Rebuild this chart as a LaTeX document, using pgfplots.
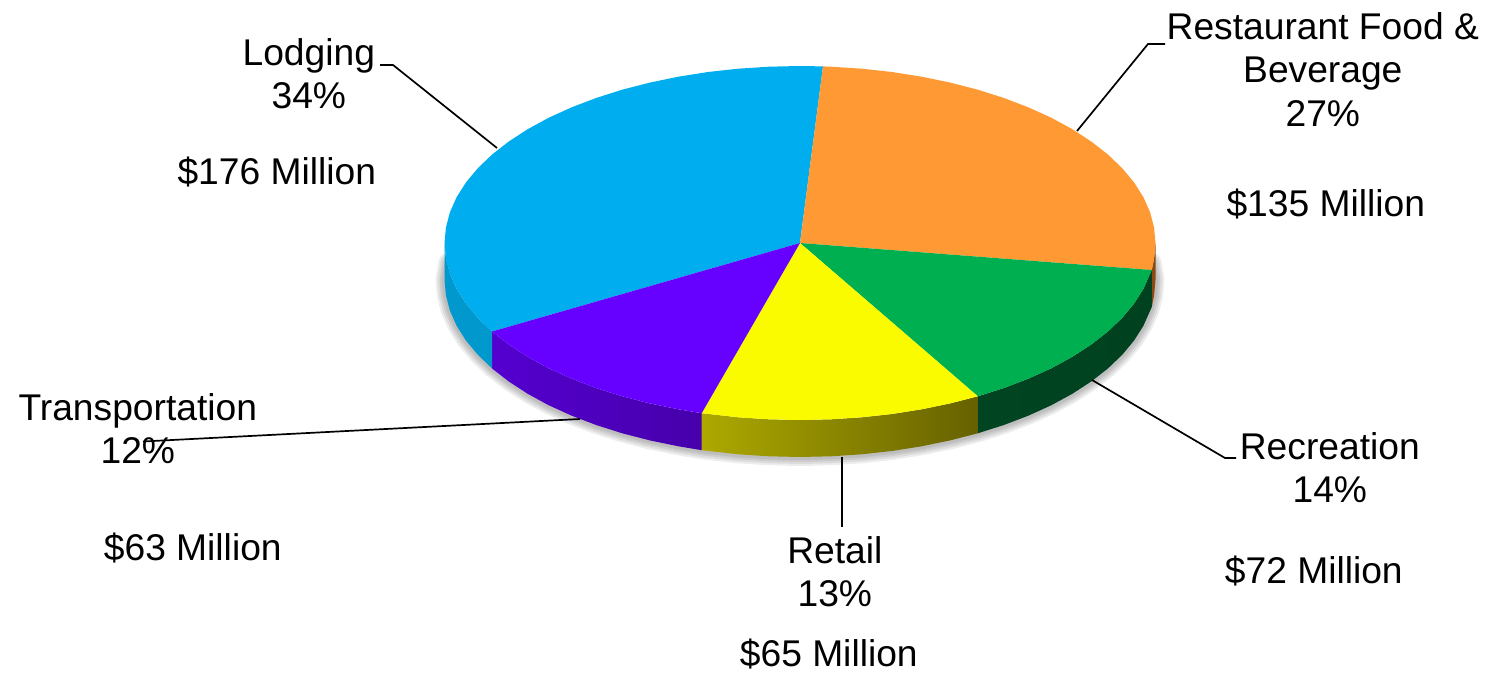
\documentclass[border=0pt]{standalone}
\usepackage{fontspec}
\setmainfont{Liberation Sans}
\usepackage{pgfplots}
\pgfplotsset{compat=1.18}
\definecolor{lodging}{HTML}{00AEEF}
\definecolor{food}{HTML}{FF9933}
\definecolor{recr}{HTML}{00B050}
\definecolor{retail}{HTML}{FBFB00}
\definecolor{transp}{HTML}{6600FF}
\begin{document}
\begin{tikzpicture}
\begin{axis}[
  scale only axis,
  width=743pt,
  height=336.5pt,
  xmin=0, xmax=1486,
  ymin=0, ymax=673,
  y dir=reverse,
  hide axis,
  clip=false,
  nodes={font=\fontsize{18.6}{21}\selectfont,text=black,inner sep=0pt,xshift=0.4pt,yshift=-0.4pt},
]
% bounding corners
\addplot[draw=none] coordinates {(0,0) (1486,673)};

% soft shadow under the rim
\pgfplotsinvokeforeach{9pt,7pt,5pt,3pt}{
\addplot[draw=black,opacity=0.07,line width=#1,line join=round,line cap=round] coordinates {
(1152.5,262) (1155.5,280) (1154.1,295.4) (1150.1,310.7) (1143.4,325.8) (1134.1,340.5) (1122.2,354.8) (1107.9,368.5) (1091.2,381.5) (1072.3,393.8) (1051.4,405.2) (1028.5,415.6) (1003.9,425) (977.8,433.3) (950.2,440.4) (921.6,446.3) (892,451) (861.7,454.3) (831,456.3) (800,457) (769,456.3) (738.3,454.3) (701.7,450.2) (678.4,446.3) (649.8,440.4) (622.2,433.3) (596.1,425) (571.5,415.6) (548.6,405.2) (527.7,393.8) (508.8,381.5) (492.1,368.5) (477.8,354.8) (465.9,340.5) (456.6,325.8) (449.9,310.7) (445.9,295.4) (444.5,280) (447.5,262)};
}

% side walls
\addplot[draw=none,fill={rgb,255:red,138;green,74;blue,16}] coordinates {
(1155.5,243) (1154.1,258.4) (1151.8,270) (1151.8,307) (1154.1,295.4) (1155.5,280)} -- cycle;
\addplot[draw=none,left color={rgb,255:red,0;green,68;blue,34},right color={rgb,255:red,0;green,66;blue,32}] coordinates {
(1151.8,270) (1150.1,273.7) (1143.4,288.8) (1134.1,303.5) (1122.2,317.8) (1107.9,331.5) (1091.2,344.5) (1072.3,356.8) (1051.4,368.2) (1028.5,378.6) (1003.9,388) (977.8,396.3)
(977.8,433.3) (1003.9,425) (1028.5,415.6) (1051.4,405.2) (1072.3,393.8) (1091.2,381.5) (1107.9,368.5) (1122.2,354.8) (1134.1,340.5) (1143.4,325.8) (1150.1,310.7) (1151.8,307)} -- cycle;
\addplot[draw=none,left color={rgb,255:red,173;green,169;blue,0},right color={rgb,255:red,102;green,97;blue,0}] coordinates {
(977.8,396.3) (950.2,403.4) (921.6,409.3) (892,414) (861.7,417.3) (831,419.3) (800,420) (769,419.3) (738.3,417.3) (701.7,413.2)
(701.7,450.2) (738.3,454.3) (769,456.3) (800,457) (831,456.3) (861.7,454.3) (892,451) (921.6,446.3) (950.2,440.4) (977.8,433.3)} -- cycle;
\addplot[draw=none,left color={rgb,255:red,84;green,0;blue,208},right color={rgb,255:red,70;green,0;blue,170}] coordinates {
(701.7,413.2) (678.4,409.3) (649.8,403.4) (622.2,396.3) (596.1,388) (571.5,378.6) (548.6,368.2) (527.7,356.8) (508.8,344.5) (492.1,331.5)
(492.1,368.5) (508.8,381.5) (527.7,393.8) (548.6,405.2) (571.5,415.6) (596.1,425) (622.2,433.3) (649.8,440.4) (678.4,446.3) (701.7,450.2)} -- cycle;
\addplot[draw=none,fill={rgb,255:red,0;green,152;blue,205}] coordinates {
(492.1,331.5) (477.8,317.8) (465.9,303.5) (456.6,288.8) (449.9,273.7) (445.9,258.4) (444.5,243)
(444.5,280) (445.9,295.4) (449.9,310.7) (456.6,325.8) (465.9,340.5) (477.8,354.8) (492.1,368.5)} -- cycle;

% top slices
\addplot[draw=none,fill=lodging] coordinates {
(800,243) (492.1,331.5) (477.8,317.8) (465.9,303.5) (456.6,288.8) (449.9,273.7) (445.9,258.4) (444.5,243) (445.9,227.6) (449.9,212.3) (456.6,197.2) (465.9,182.5) (477.8,168.2) (492.1,154.5) (508.8,141.5) (527.7,129.2) (548.6,117.8) (571.5,107.4) (596.1,98) (622.2,89.7) (649.8,82.6) (678.4,76.7) (708,72) (738.3,68.7) (769,66.7) (800,66) (823,66.4)} -- cycle;
\addplot[draw=none,fill=food] coordinates {
(800,243) (823,66.4) (831,66.7) (861.7,68.7) (892,72) (921.6,76.7) (950.2,82.6) (977.8,89.7) (1003.9,98) (1028.5,107.4) (1051.4,117.8) (1072.3,129.2) (1091.2,141.5) (1107.9,154.5) (1122.2,168.2) (1134.1,182.5) (1143.4,197.2) (1150.1,212.3) (1154.1,227.6) (1155.5,243) (1154.1,258.4) (1151.8,270)} -- cycle;
\addplot[draw=none,fill=recr] coordinates {
(800,243) (1151.8,270) (1150.1,273.7) (1143.4,288.8) (1134.1,303.5) (1122.2,317.8) (1107.9,331.5) (1091.2,344.5) (1072.3,356.8) (1051.4,368.2) (1028.5,378.6) (1003.9,388) (977.8,396.3)} -- cycle;
\addplot[draw=none,fill=retail] coordinates {
(800,243) (977.8,396.3) (950.2,403.4) (921.6,409.3) (892,414) (861.7,417.3) (831,419.3) (800,420) (769,419.3) (738.3,417.3) (701.7,413.2)} -- cycle;
\addplot[draw=none,fill=transp] coordinates {
(800,243) (701.7,413.2) (678.4,409.3) (649.8,403.4) (622.2,396.3) (596.1,388) (571.5,378.6) (548.6,368.2) (527.7,356.8) (508.8,344.5) (492.1,331.5)} -- cycle;

% labels
\node[anchor=base] at (axis cs:308,65) {Lodging};
\node[anchor=base] at (axis cs:308,108) {34\%};
\node[anchor=base] at (axis cs:276,184) {\$176 Million};
\node[anchor=base] at (axis cs:1322,39) {Restaurant Food \&};
\node[anchor=base] at (axis cs:1322,82) {Beverage};
\node[anchor=base] at (axis cs:1322,126) {27\%};
\node[anchor=base] at (axis cs:1325,216) {\$135 Million};
\node[anchor=base] at (axis cs:1329,459) {Recreation};
\node[anchor=base] at (axis cs:1329,502) {14\%};
\node[anchor=base] at (axis cs:1313,583) {\$72 Million};
\node[anchor=base] at (axis cs:834,563) {Retail};
\node[anchor=base] at (axis cs:834,606) {13\%};
\node[anchor=base] at (axis cs:828,666) {\$65 Million};
\node[anchor=base] at (axis cs:137,420) {Transportation};
\node[anchor=base] at (axis cs:137,463) {12\%};
\node[anchor=base] at (axis cs:192,560) {\$63 Million};

% leader lines
\addplot[black,line width=0.85pt] coordinates {(380,65) (393,65) (497,148)};
\addplot[black,line width=0.85pt] coordinates {(1165,44) (1148,44) (1077,131)};
\addplot[black,line width=0.85pt] coordinates {(1236,458) (1225,458) (1092,380)};
\addplot[black,line width=0.85pt] coordinates {(842,457) (842,527)};
\addplot[black,line width=0.85pt] coordinates {(580,419) (143,441.5)};
\end{axis}
\end{tikzpicture}
\end{document}
